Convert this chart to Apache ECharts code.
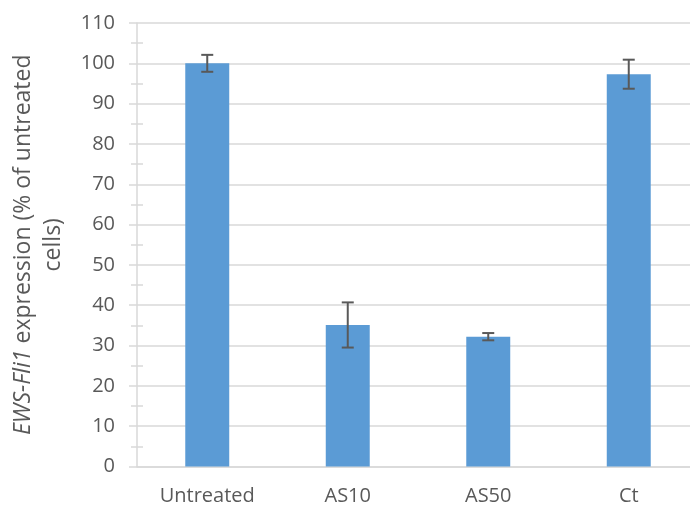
<!DOCTYPE html>
<html>
<head>
<meta charset="utf-8">
<script src="https://cdn.jsdelivr.net/npm/echarts@6/dist/echarts.min.js"></script>
<style>html,body{margin:0;padding:0;background:#fff}#c{width:690px;height:507px}</style>
</head>
<body>
<div id="c"></div>
<script>
const categories = ['Untreated', 'AS10', 'AS50', 'Ct'];
const values = [100, 35.1, 32.2, 97.3];
const errors = [2.1, 5.6, 0.9, 3.6];
const yTicks = [0, 10, 20, 30, 40, 50, 60, 70, 80, 90, 100, 110];

const chart = echarts.init(document.getElementById('c'));
const font = '"Open Sans", sans-serif';
const txt = '#595959';
const grey = '#d9d9d9';

const errData = categories.map((c, i) => [i, values[i] - errors[i], values[i] + errors[i]]);

chart.setOption({
  animation: false,
  grid: { left: 137, top: 23, width: 562, height: 443.5, containLabel: false, outerBoundsMode: 'none' },
  xAxis: {
    type: 'category',
    data: categories,
    axisLine: { lineStyle: { color: grey, width: 1.5 } },
    axisTick: { show: false },
    axisLabel: { color: txt, fontFamily: font, fontSize: 20, margin: 20 },
    splitLine: { show: false }
  },
  yAxis: [{
    type: 'value',
    min: yTicks[0],
    max: yTicks[yTicks.length - 1],
    interval: 10,
    axisLine: { show: true, lineStyle: { color: grey, width: 1.5 } },
    axisTick: { show: true, length: 8, lineStyle: { color: grey, width: 1.5 } },
    minorTick: { show: true, splitNumber: 2, length: 6, lineStyle: { color: grey, width: 1.5 } },
    axisLabel: { color: txt, fontFamily: font, fontSize: 20, margin: 22 },
    splitLine: { show: true, lineStyle: { color: grey, width: 1.5 } },
    name: '{i|EWS-Fli1} expression (% of untreated\ncells)',
    nameLocation: 'middle',
    nameGap: 69,
    nameTextStyle: {
      color: txt, fontFamily: font, fontSize: 23, lineHeight: 30, align: 'center',
      rich: { i: { fontStyle: 'italic', color: txt, fontFamily: font, fontSize: 23, lineHeight: 30 } }
    }
  }, {
    type: 'value',
    position: 'left',
    min: yTicks[0],
    max: yTicks[yTicks.length - 1],
    interval: 10,
    axisLine: { show: false },
    axisTick: { show: false, inside: true },
    minorTick: { show: true, splitNumber: 2, length: 6, lineStyle: { color: grey, width: 1.5 } },
    axisLabel: { show: false },
    splitLine: { show: false }
  }],
  series: [{
    type: 'bar',
    data: values,
    barWidth: '31.3%',
    itemStyle: { color: '#5b9bd5' },
    z: 2
  }, {
    type: 'custom',
    data: errData,
    z: 5,
    encode: { x: 0, y: [1, 2] },
    renderItem: function (params, api) {
      const x = api.value(0);
      const lo = api.coord([x, api.value(1)]);
      const hi = api.coord([x, api.value(2)]);
      const hw = 6;
      const st = { stroke: '#595959', lineWidth: 2, fill: null };
      return {
        type: 'group',
        children: [
          { type: 'line', shape: { x1: lo[0], y1: lo[1], x2: hi[0], y2: hi[1] }, style: st },
          { type: 'line', shape: { x1: lo[0] - hw, y1: lo[1], x2: lo[0] + hw, y2: lo[1] }, style: st },
          { type: 'line', shape: { x1: hi[0] - hw, y1: hi[1], x2: hi[0] + hw, y2: hi[1] }, style: st }
        ]
      };
    }
  }]
});
</script>
</body>
</html>
